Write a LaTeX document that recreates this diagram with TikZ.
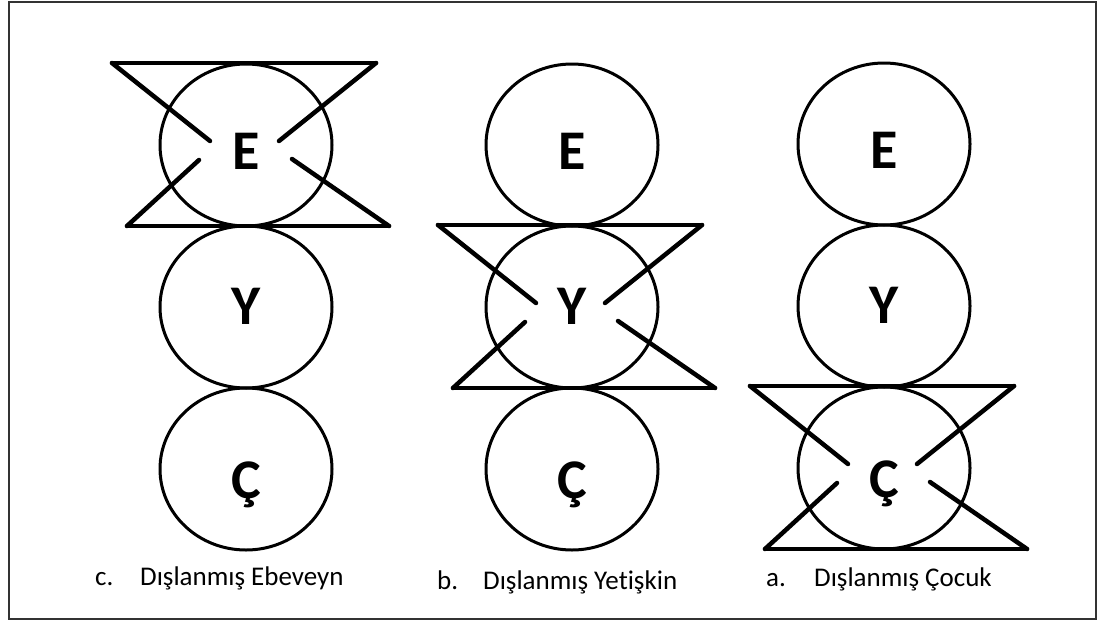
\documentclass[tikz,border=0pt]{standalone}
\usepackage{fontspec}
\setmainfont{Carlito}[RawFeature=-liga]
\usetikzlibrary{shapes.geometric,positioning,calc}

% crossed-out band over one circle
\newcommand{\cutout}[1]{%
  \coordinate (#1-tl) at ($(#1.center)+(-134,-82)$);
  \coordinate (#1-tr) at ($(#1.center)+(130,-82)$);
  \coordinate (#1-bl) at ($(#1.center)+(-119,81)$);
  \coordinate (#1-br) at ($(#1.center)+(143,81)$);
  \draw[bar] (#1-tl) -- (#1-tr);
  \draw[bar] (#1-bl) -- (#1-br);
  \draw[bar] (#1-tl) -- ($(#1.center)+(-36,-4)$);
  \draw[bar] (#1-tr) -- ($(#1.center)+(33,-4)$);
  \draw[bar] (#1-bl) -- ($(#1.center)+(-47,15)$);
  \draw[bar] (#1-br) -- ($(#1.center)+(46,14)$);
}

\begin{document}
\begin{tikzpicture}[x=1pt, y=-1pt, node distance=0pt,
        ring/.style={ellipse, draw, line width=3pt, minimum width=172pt, minimum height=162pt, inner sep=0pt, outer sep=0pt},
        letter/.style={anchor=base, inner sep=0pt, font=\fontsize{56}{60}\selectfont\bfseries},
        bar/.style={line width=4.5pt, line cap=round, line join=round},
        caption/.style={anchor=base west, inner sep=0pt, font=\fontsize{27}{32}\selectfont},
        frame/.style={draw=black!80, line width=2pt}]
        \useasboundingbox (0,0) rectangle (1097,621);
        \draw[frame] (8.5,1.5) rectangle (1095.5,619);

        % c. Ebeveyn
        \node[ring] (cE) at (246,145) {};
        \node[ring, below=of cE] (cY) {};
        \node[ring, below=of cY] (cC) {};
        \node[letter] (cEt) at ($(cE.center)+(0,24)$) {E};
        \node[letter] (cYt) at ($(cY.center)+(0,17)$) {Y};
        \node[letter] (cCt) at ($(cC.center)+(0,29)$) {Ç};
        \cutout{cE}

        % b. Yetiskin
        \node[ring] (bE) at (572,145) {};
        \node[ring, below=of bE] (bY) {};
        \node[ring, below=of bY] (bC) {};
        \node[letter] (bEt) at ($(bE.center)+(0,24)$) {E};
        \node[letter] (bYt) at ($(bY.center)+(0,17)$) {Y};
        \node[letter] (bCt) at ($(bC.center)+(0,29)$) {Ç};
        \cutout{bY}

        % a. Cocuk
        \node[ring] (aE) at (884,144) {};
        \node[ring, below=of aE] (aY) {};
        \node[ring, below=of aY] (aC) {};
        \node[letter] (aEt) at ($(aE.center)+(0,24)$) {E};
        \node[letter] (aYt) at ($(aY.center)+(0,17)$) {Y};
        \node[letter] (aCt) at ($(aC.center)+(0,29)$) {Ç};
        \cutout{aC}

        \node[caption] (capc) at (95,585) {\makebox[45pt][l]{c.}Dışlanmış Ebeveyn};
        \node[caption] (capb) at (437,589) {\makebox[46pt][l]{b.}Dışlanmış Yetişkin};
        \node[caption] (capa) at (766,586) {\makebox[48pt][l]{a.}Dışlanmış Çocuk};
    \end{tikzpicture}
\end{document}
